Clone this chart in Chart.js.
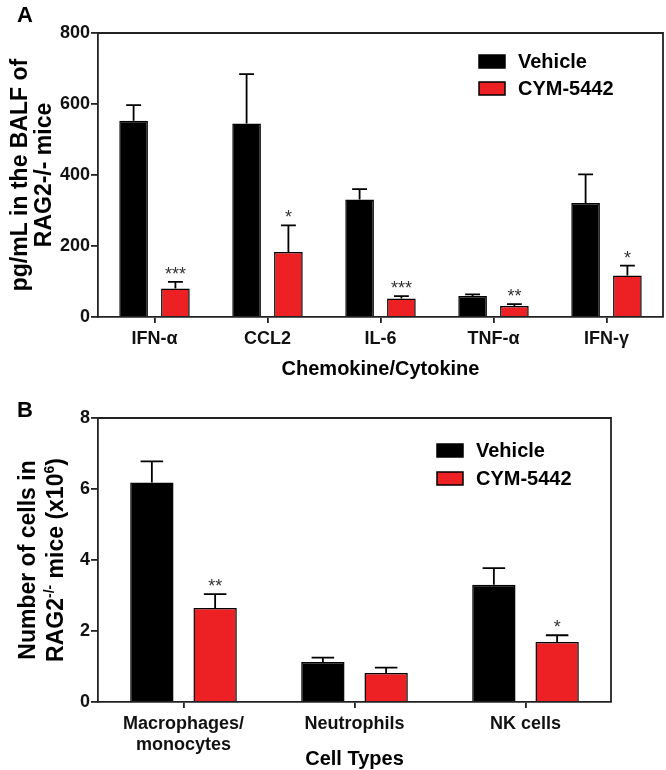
<!DOCTYPE html>
<html>
<head>
<meta charset="utf-8">
<script src="https://cdn.jsdelivr.net/npm/chart.js@4.4.1/dist/chart.umd.min.js"></script>
<style>
  html, body { margin: 0; padding: 0; background: #fff; }
  #wrap { position: relative; width: 666px; height: 770px; }
  canvas { position: absolute; left: 0; }
</style>
</head>
<body>
<div id="wrap">
  <canvas id="chartA" width="666" height="385" style="top:0"></canvas>
  <canvas id="chartB" width="666" height="385" style="top:385px"></canvas>
</div>
<script>
'use strict';

// ── Data: panel A (cytokines in BALF) ────────────────────────────────────────
const cytokines   = ['IFN-α', 'CCL2', 'IL-6', 'TNF-α', 'IFN-γ'];
const vehicleA    = [553, 545, 331, 59, 321];
const vehicleErrA = [44, 139, 29, 5, 81];
const cymA        = [80, 183, 52, 31, 117];
const cymErrA     = [19, 75, 7, 5, 28];
const starsVehA   = ['', '', '', '', ''];
const starsCymA   = ['***', '*', '***', '**', '*'];

// ── Data: panel B (cell counts) ──────────────────────────────────────────────
const cellTypes   = [['Macrophages/', 'monocytes'], 'Neutrophils', 'NK cells'];
const vehicleB    = [6.18, 1.13, 3.30];
const vehicleErrB = [0.60, 0.12, 0.47];
const cymB        = [2.65, 0.82, 1.69];
const cymErrB     = [0.39, 0.15, 0.19];
const starsVehB   = ['', '', ''];
const starsCymB   = ['**', '', '*'];

const seriesNames = ['Vehicle', 'CYM-5442'];
const BLACK = '#000000';
const RED   = '#ED2124';
const FONT  = 'Arial, "Liberation Sans", sans-serif';

Chart.defaults.font.family = FONT;
Chart.defaults.color = '#111';

// ── Error bars + significance stars ──────────────────────────────────────────
const errorBars = {
  id: 'errorBars',
  afterDatasetsDraw(chart) {
    const ctx = chart.ctx;
    const y = chart.scales.y;
    chart.data.datasets.forEach((ds, di) => {
      chart.getDatasetMeta(di).data.forEach((bar, i) => {
        const top = y.getPixelForValue(ds.data[i] + ds.errors[i]);
        const cap = bar.width * 0.26;
        ctx.save();
        ctx.strokeStyle = '#000';
        ctx.lineWidth = 1.8;
        ctx.beginPath();
        ctx.moveTo(bar.x, bar.y);
        ctx.lineTo(bar.x, top);
        ctx.moveTo(bar.x - cap, top);
        ctx.lineTo(bar.x + cap, top);
        ctx.stroke();
        if (ds.stars[i]) {
          ctx.fillStyle = '#333';
          ctx.font = '18px ' + FONT;
          ctx.textAlign = 'center';
          ctx.textBaseline = 'alphabetic';
          ctx.fillText(ds.stars[i], bar.x, top - 2);
        }
        ctx.restore();
      });
    });
  }
};

// ── Frame, titles, legend, panel letter ──────────────────────────────────────
function drawSegments(ctx, segs, x0) {
  let x = x0;
  segs.forEach(s => {
    ctx.font = (s[1] ? 'bold 14px ' : 'bold 23px ') + FONT;
    ctx.fillText(s[0], x, s[1] ? -9 : 0);
    x += ctx.measureText(s[0]).width;
  });
}

function segWidth(ctx, segs) {
  let w = 0;
  segs.forEach(s => {
    ctx.font = (s[1] ? 'bold 14px ' : 'bold 23px ') + FONT;
    w += ctx.measureText(s[0]).width;
  });
  return w;
}

const decor = {
  id: 'decor',
  afterDraw(chart, args, o) {
    const ctx = chart.ctx;
    const a = chart.chartArea;
    ctx.save();

    // top and right border of the plot box
    ctx.strokeStyle = '#222';
    ctx.lineWidth = 1.8;
    ctx.beginPath();
    ctx.moveTo(a.left, a.top);
    ctx.lineTo(a.right, a.top);
    ctx.lineTo(a.right, a.bottom);
    ctx.stroke();

    ctx.fillStyle = '#000';
    ctx.textBaseline = 'alphabetic';

    // panel letter
    ctx.font = 'bold 22px ' + FONT;
    ctx.textAlign = 'left';
    ctx.fillText(o.letter, 17, o.letterY);

    // y title (rotated, may hold superscripts)
    const cy = (a.top + a.bottom) / 2;
    o.yTitle.forEach((segs, li) => {
      ctx.save();
      ctx.translate(o.yTitleX[li], cy);
      ctx.rotate(-Math.PI / 2);
      ctx.textAlign = 'left';
      drawSegments(ctx, segs, -segWidth(ctx, segs) / 2);
      ctx.restore();
    });

    // x title
    ctx.font = 'bold 20px ' + FONT;
    ctx.textAlign = 'center';
    ctx.fillText(o.xTitle, (a.left + a.right) / 2, o.xTitleY);

    // legend
    chart.data.datasets.forEach((ds, i) => {
      const by = o.legendY + i * o.legendGap;
      ctx.fillStyle = ds.backgroundColor;
      ctx.fillRect(o.legendX, by, 26, 13);
      ctx.strokeStyle = '#000';
      ctx.lineWidth = 1.5;
      ctx.strokeRect(o.legendX, by, 26, 13);
      ctx.fillStyle = '#000';
      ctx.font = 'bold 20px ' + FONT;
      ctx.textAlign = 'left';
      ctx.textBaseline = 'middle';
      ctx.fillText(ds.label, o.legendX + 39, by + 7.5);
    });

    ctx.restore();
  }
};

// ── Chart builder ────────────────────────────────────────────────────────────
function buildChart(canvasId, labels, sets, yMax, yStep, padRight, deco) {
  const axisFont = { family: FONT, size: 18, weight: 'bold' };
  return new Chart(document.getElementById(canvasId), {
    type: 'bar',
    data: {
      labels: labels,
      datasets: sets.map((s, i) => ({
        label: seriesNames[i],
        data: s.values,
        errors: s.errors,
        stars: s.stars,
        backgroundColor: i === 0 ? BLACK : RED,
        borderColor: '#000',
        borderWidth: 1.5,
        categoryPercentage: 0.74,
        barPercentage: 0.685,
      })),
    },
    options: {
      responsive: false,
      animation: false,
      layout: { padding: { left: 0, right: padRight, top: 33, bottom: 0 } },
      plugins: {
        legend: { display: false },
        tooltip: { enabled: false },
        decor: deco,
      },
      scales: {
        x: {
          grid: { drawOnChartArea: false, offset: false, tickLength: 6, color: '#222', lineWidth: 1.8 },
          border: { color: '#222', width: 1.8 },
          ticks: { color: '#111', font: axisFont, padding: 5, maxRotation: 0, autoSkip: false },
          afterFit(s) { s.height = 68; },
        },
        y: {
          min: 0,
          max: yMax,
          grid: { drawOnChartArea: false, tickLength: 7, color: '#222', lineWidth: 1.8 },
          border: { color: '#222', width: 1.8 },
          ticks: { stepSize: yStep, color: '#111', font: axisFont, padding: 1 },
          afterFit(s) { s.width = 98; },
        },
      },
    },
    plugins: [errorBars, decor],
  });
}

// ── Panel A ──────────────────────────────────────────────────────────────────
buildChart('chartA', cytokines, [
  { values: vehicleA, errors: vehicleErrA, stars: starsVehA },
  { values: cymA,     errors: cymErrA,     stars: starsCymA },
], 800, 200, 3, {
  letter: 'A', letterY: 22,
  yTitle: [[['pg/mL in the BALF of', false]], [['RAG2-/- mice', false]]],
  yTitleX: [27, 51],
  xTitle: 'Chemokine/Cytokine', xTitleY: 375,
  legendX: 479, legendY: 55, legendGap: 27,
});

// ── Panel B ──────────────────────────────────────────────────────────────────
buildChart('chartB', cellTypes, [
  { values: vehicleB, errors: vehicleErrB, stars: starsVehB },
  { values: cymB,     errors: cymErrB,     stars: starsCymB },
], 8, 2, 55, {
  letter: 'B', letterY: 32,
  yTitle: [
    [['Number of cells in', false]],
    [['RAG2', false], ['-/-', true], [' mice (x10', false], ['6', true], [')', false]],
  ],
  yTitleX: [35, 63],
  xTitle: 'Cell Types', xTitleY: 380,
  legendX: 437, legendY: 59, legendGap: 28,
});
</script>
</body>
</html>
